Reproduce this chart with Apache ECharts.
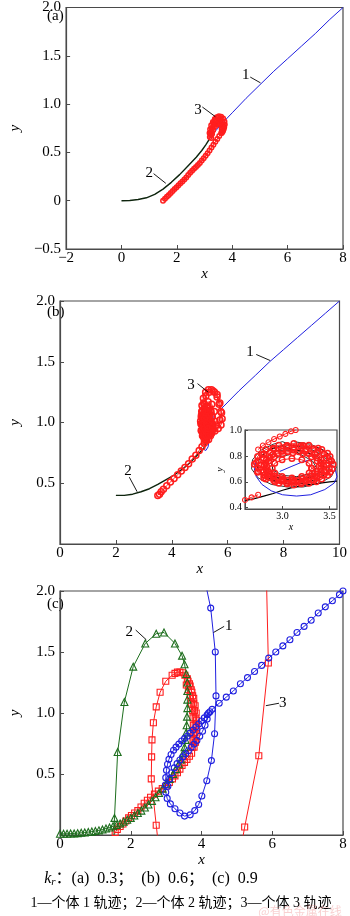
<!DOCTYPE html>
<html><head><meta charset="utf-8">
<script src="https://cdn.jsdelivr.net/npm/echarts@6/dist/echarts.min.js"></script>
<style>html,body{margin:0;padding:0;background:#fff}#c{width:350px;height:916px}</style>
</head><body><div id="c"></div>
<script>
// ---------------- tick labels ----------------
const aXTicks = [-2, 0, 2, 4, 6, 8];
const aYTicks = [-0.5, 0, 0.5, 1.0, 1.5, 2.0];
const bXTicks = [0, 2, 4, 6, 8, 10];
const bYTicks = [0, 0.5, 1.0, 1.5, 2.0];
const insetXRange = [2.6, 3.58];
const insetYRange = [0.39, 1.0];
const insetXTicks = [3.0, 3.5];
const insetYTicks = [0.4, 0.6, 0.8, 1.0];
const cXTicks = [0, 2, 4, 6, 8];
const cYTicks = [0, 0.5, 1.0, 1.5, 2.0];

// ---------------- panel (a), kr = 0.3 ----------------
const aTraj1 = [[3.18,0.64],[3.30,0.69],[3.42,0.73],[3.55,0.77],[3.70,0.82],[4.0,0.91],[4.5,1.06],[5.0,1.20],[5.5,1.34],[6.0,1.47],[6.5,1.60],[7.0,1.73],[7.5,1.87],[8.0,2.0]];
const aTraj2 = [[0,0],[0.3,0.002],[0.6,0.012],[0.9,0.03],[1.2,0.065],[1.5,0.12],[1.8,0.19],[2.1,0.27],[2.4,0.36],[2.7,0.45],[2.9,0.52],[3.05,0.58],[3.18,0.64]];
const aTraj3 = [[1.50,0.00],[1.57,0.02],[1.64,0.04],[1.71,0.06],[1.78,0.08],[1.85,0.10],[1.92,0.12],[1.99,0.14],[2.06,0.16],[2.13,0.18],[2.20,0.20],[2.27,0.22],[2.34,0.24],[2.41,0.265],[2.48,0.29],[2.55,0.31],[2.62,0.33],[2.69,0.35],[2.76,0.37],[2.83,0.39],[2.90,0.415],[2.97,0.44],[3.04,0.465],[3.11,0.49],[3.18,0.52],[3.25,0.55],[3.32,0.58],[3.39,0.61],[3.46,0.64],[3.53,0.67],[3.60,0.70],[3.66,0.73],[3.71,0.76],[3.73,0.79],[3.72,0.82],[3.67,0.85],[3.60,0.87],[3.52,0.875],[3.44,0.865],[3.37,0.845],[3.30,0.815],[3.24,0.78],[3.20,0.74],[3.18,0.70],[3.19,0.66],[3.23,0.68],[3.26,0.72],[3.30,0.76],[3.36,0.79],[3.43,0.82],[3.51,0.83],[3.58,0.82],[3.64,0.79],[3.67,0.76],[3.66,0.72],[3.62,0.70],[3.62,0.74],[3.60,0.78],[3.54,0.80],[3.46,0.79],[3.38,0.77],[3.31,0.73],[3.27,0.69],[3.24,0.65],[3.22,0.70],[3.25,0.75],[3.31,0.80],[3.39,0.84],[3.48,0.86],[3.57,0.85],[3.65,0.82],[3.70,0.78],[3.69,0.74],[3.64,0.71]];
const aNotes = [{t:'1', at:[4.49,1.30], from:[4.65,1.28], to:[5.02,1.22]},{t:'2', at:[1.0,0.29], from:[1.16,0.28], to:[1.6,0.18]},{t:'3', at:[2.76,0.94], from:[2.92,0.97], to:[3.39,0.87]}];

// ---------------- panel (b), kr = 0.6 ----------------
const bTraj1 = [[5.12,0.78],[5.22,0.77],[5.30,0.80],[5.33,0.86],[5.32,0.93],[5.38,1.0],[5.5,1.05],[5.8,1.12],[6.4,1.26],[7.0,1.39],[7.5,1.5],[8.0,1.6],[8.5,1.7],[9.0,1.8],[9.5,1.9],[10.0,2.0]];
const bTraj2 = [[2.0,0.40],[2.3,0.40],[2.6,0.41],[2.9,0.43],[3.2,0.455],[3.5,0.49],[3.8,0.53],[4.1,0.57],[4.4,0.62],[4.7,0.68],[4.95,0.74],[5.15,0.79],[5.22,0.82]];
const bTraj3 = [[3.50,0.40],[3.56,0.41],[3.62,0.43],[3.70,0.45],[3.82,0.48],[3.95,0.51],[4.08,0.54],[4.21,0.57],[4.34,0.60],[4.47,0.63],[4.60,0.66],[4.73,0.70],[4.86,0.73],[4.98,0.77],[5.08,0.80],[5.16,0.83],[5.22,0.86],[5.14,0.91],[5.08,0.98],[5.06,1.06],[5.08,1.14],[5.13,1.20],[5.21,1.25],[5.31,1.27],[5.42,1.27],[5.53,1.25],[5.62,1.21],[5.69,1.15],[5.75,1.09],[5.80,1.03],[5.76,0.98],[5.66,0.95],[5.54,0.93],[5.42,0.91],[5.32,0.89],[5.40,0.92],[5.46,0.98],[5.45,1.05],[5.39,1.10],[5.29,1.13],[5.18,1.11],[5.10,1.05],[5.08,0.98],[5.11,0.92],[5.19,0.88],[5.28,0.89],[5.36,0.94],[5.39,1.01],[5.35,1.07],[5.26,1.09],[5.17,1.07],[5.12,1.01],[5.13,0.95],[5.19,0.91],[5.27,0.92],[5.31,0.97],[5.30,1.03],[5.23,1.05],[5.17,1.01],[5.18,0.96],[5.24,0.94],[5.22,0.99],[5.26,1.0],[5.24,0.97],[5.34,0.90],[5.48,0.94],[5.54,1.01],[5.52,1.09],[5.43,1.15],[5.30,1.17],[5.16,1.15],[5.07,1.09],[5.03,1.01],[5.06,0.93],[5.14,0.88],[5.20,0.86],
 [5.44,0.99],[5.425,1.044],[5.382,1.089],[5.316,1.119],[5.24,1.13],[5.164,1.119],[5.098,1.089],[5.055,1.044],[5.04,0.99],[5.055,0.936],[5.098,0.891],[5.164,0.861],[5.24,0.85],[5.316,0.861],[5.382,0.891],[5.425,0.936],
 [5.36,0.99],[5.343,1.04],[5.295,1.077],[5.23,1.09],[5.165,1.077],[5.117,1.04],[5.10,0.99],[5.117,0.94],[5.165,0.903],[5.23,0.89],[5.295,0.903],[5.343,0.94],
 [5.29,0.99],[5.27,1.032],[5.22,1.05],[5.17,1.032],[5.15,0.99],[5.17,0.948],[5.22,0.93],[5.27,0.948],[5.26,0.99],
 [5.30,0.95],[5.45,0.96],[5.60,0.98],[5.72,1.02],[5.78,1.08],[5.72,1.16],[5.62,1.23],[5.48,1.26],[5.34,1.25],[5.22,1.22],[5.14,1.16],[5.10,1.10]];
const bNotes = [{t:'1', at:[6.8,1.58], from:[7.02,1.56], to:[7.52,1.51]},{t:'2', at:[2.43,0.60], from:[2.48,0.55], to:[2.76,0.43]},{t:'3', at:[4.69,1.31], from:[4.92,1.32], to:[5.30,1.25]}];

// ---------------- inset of panel (b) ----------------
const inBlackLine = [[2.6,0.455],[2.7,0.47],[2.8,0.49],[2.9,0.51],[3.0,0.535],[3.1,0.555],[3.2,0.57],[3.3,0.58],[3.4,0.59],[3.5,0.6],[3.58,0.605]];
const inBlackLoops = [[3.12,0.91],[3.30,0.89],[3.45,0.84],[3.55,0.77],[3.57,0.71],[3.52,0.64],[3.40,0.59],[3.22,0.56],[3.05,0.56],[2.88,0.58],[2.74,0.63],[2.67,0.70],[2.68,0.77],[2.76,0.84],[2.90,0.89],[3.00,0.91],[3.10,0.88],[3.28,0.86],[3.42,0.81],[3.50,0.75],[3.49,0.68],[3.38,0.62],[3.22,0.59],[3.05,0.59],[2.90,0.61],[2.78,0.66],[2.73,0.72],[2.76,0.79],[2.86,0.85],[3.00,0.88],[3.10,0.85],[3.25,0.83],[3.38,0.79],[3.44,0.74],[3.42,0.68],[3.32,0.64],[3.18,0.62],[3.02,0.62],[2.90,0.64],[2.82,0.68],[2.80,0.74],[2.85,0.80],[2.95,0.84],[3.10,0.85],[3.22,0.80],[3.32,0.76],[3.36,0.71],[3.30,0.66],[3.15,0.64],[3.0,0.65],[2.9,0.69],[2.88,0.74],[2.95,0.79],[3.08,0.81]];
const inRedTop = [[2.74,0.85],[2.79,0.88],[2.85,0.905],[2.91,0.93],[2.97,0.95],[3.03,0.97],[3.09,0.99],[3.14,1.0]];
const inRedLow = [[2.6,0.46],[2.67,0.48],[2.74,0.50]];
const inRedRings = [
 [3.54,0.735],[3.506,0.796],[3.418,0.849],[3.28,0.882],[3.12,0.895],[2.96,0.882],[2.822,0.849],[2.734,0.796],[2.70,0.735],[2.734,0.674],[2.822,0.621],[2.96,0.588],[3.12,0.575],[3.28,0.588],[3.418,0.621],[3.506,0.674],
 [3.498,0.704],[3.498,0.762],[3.44,0.815],[3.334,0.856],[3.195,0.878],[3.045,0.878],[2.906,0.856],[2.80,0.815],[2.742,0.762],[2.742,0.704],[2.80,0.651],[2.906,0.61],[3.045,0.588],[3.195,0.588],[3.334,0.61],[3.44,0.651],
 [3.47,0.73],[3.442,0.782],[3.369,0.826],[3.253,0.854],[3.12,0.865],[2.987,0.854],[2.871,0.826],[2.798,0.782],[2.77,0.73],[2.798,0.678],[2.871,0.634],[2.987,0.606],[3.12,0.595],[3.253,0.606],[3.369,0.634],[3.442,0.678],
 [3.435,0.725],[3.411,0.771],[3.344,0.810],[3.241,0.836],[3.12,0.845],[2.999,0.836],[2.896,0.810],[2.829,0.771],[2.805,0.725],[2.829,0.679],[2.896,0.640],[2.999,0.614],[3.12,0.605],[3.241,0.614],[3.344,0.640],[3.411,0.679],
 [3.409,0.70],[3.409,0.744],[3.364,0.785],[3.282,0.816],[3.174,0.833],[3.056,0.833],[2.948,0.816],[2.866,0.785],[2.821,0.744],[2.821,0.70],[2.866,0.659],[2.948,0.628],[3.056,0.611],[3.174,0.611],[3.282,0.628],[3.364,0.659],
 [3.39,0.72],[3.369,0.76],[3.309,0.794],[3.216,0.817],[3.11,0.825],[3.004,0.817],[2.911,0.794],[2.852,0.76],[2.83,0.72],[2.852,0.68],[2.911,0.646],[3.004,0.623],[3.11,0.615],[3.216,0.623],[3.309,0.646],[3.369,0.68],
 [3.31,0.705],[3.283,0.743],[3.205,0.770],[3.1,0.78],[2.995,0.770],[2.917,0.743],[2.89,0.705],[2.917,0.668],[2.995,0.640],[3.1,0.63],[3.205,0.640],[3.283,0.668],[3.31,0.705],
 [3.52,0.76],[3.48,0.82],[3.38,0.86],[3.22,0.88],[3.05,0.88],[2.9,0.86],[2.78,0.81],[2.72,0.75],[2.74,0.68],[2.8,0.63],[2.92,0.6],[3.05,0.585],[3.2,0.585],[3.36,0.6],[3.48,0.65],[3.53,0.70]];
const inBlueLoop = [[2.72,0.76],[2.70,0.70],[2.72,0.64],[2.78,0.58],[2.88,0.53],[3.0,0.50],[3.15,0.49],[3.30,0.50],[3.45,0.54],[3.55,0.59],[3.58,0.64],[3.56,0.70],[3.50,0.75]];
const inBlueInner = [[2.97,0.68],[3.10,0.72],[3.20,0.75],[3.29,0.77]];

// ---------------- panel (c), kr = 0.9 ----------------
const cTraj1 = [[4.10,2.08],[4.26,1.86],[4.39,1.50],[4.41,1.14],[4.37,0.83],[4.28,0.61],[4.15,0.445],[4.01,0.32],[3.92,0.25],[3.81,0.20],[3.68,0.165],[3.52,0.155],[3.39,0.18],[3.25,0.215],[3.12,0.255],[3.03,0.30],[2.99,0.35],[2.98,0.41],[2.99,0.47],[3.01,0.53],[3.04,0.58],[3.08,0.62],[3.14,0.66],[3.21,0.695],[3.28,0.72],[3.36,0.745],[3.44,0.77],[3.52,0.79],[3.60,0.81],[3.68,0.835],[3.76,0.86],[3.84,0.885],[3.92,0.91],[4.00,0.935],[4.08,0.96],[4.16,0.985],[4.24,1.01],[4.30,1.03],[4.5,1.08],[4.7,1.13],[4.9,1.18],[5.1,1.24],[5.3,1.29],[5.5,1.34],[5.7,1.39],[5.9,1.45],[6.1,1.50],[6.3,1.55],[6.5,1.60],[6.7,1.66],[6.9,1.71],[7.1,1.76],[7.3,1.82],[7.5,1.87],[7.7,1.92],[7.9,1.97],[8.0,2.0]];
const cTraj1Band = [[3.05,0.40],[3.10,0.46],[3.16,0.51],[3.23,0.55],[3.31,0.585],[3.39,0.615],[3.47,0.64],[3.55,0.665],[3.63,0.69],[3.71,0.72],[3.79,0.745],[3.87,0.775],[3.95,0.81],[4.03,0.85],[4.10,0.90],[4.16,0.95],[4.20,1.0]];
const cTraj2 = [[0.0,0.01],[0.1,0.01],[0.2,0.01],[0.3,0.012],[0.4,0.013],[0.5,0.015],[0.6,0.018],[0.7,0.02],[0.8,0.024],[0.9,0.028],[1.0,0.033],[1.1,0.038],[1.2,0.045],[1.3,0.053],[1.4,0.062],[1.5,0.072],[1.6,0.083],[1.7,0.095],[1.8,0.11],[1.9,0.125],[2.0,0.14],[2.1,0.16],[2.2,0.18],[2.3,0.2],[2.4,0.225],[2.5,0.25],[2.6,0.28],[2.7,0.31],[2.8,0.345],[2.9,0.38],[3.0,0.42],[3.1,0.46],[3.2,0.5],[3.28,0.54],[3.36,0.58],[3.42,0.62],[3.48,0.67],[3.52,0.72],[3.55,0.78],[3.57,0.84],[3.58,0.9],[3.59,0.97],[3.6,1.04],[3.6,1.11],[3.6,1.18],[3.6,1.25],[3.57,1.32],[3.52,1.40],[3.45,1.47],[3.25,1.57],[2.94,1.66],[2.72,1.65],[2.41,1.57],[2.07,1.38],[1.82,1.09],[1.63,0.68],[1.54,0.14],[1.52,-0.05]];
const cTraj3Right = [[5.15,-0.05],[5.22,0.065],[5.62,0.65],[5.89,1.41],[5.84,2.05]];
const cTraj3 = [[1.48,-0.03],[1.56,0.02],[1.62,0.045],[1.70,0.07],[1.78,0.09],[1.86,0.115],[1.94,0.14],[2.02,0.16],[2.11,0.18],[2.20,0.2],[2.29,0.23],[2.38,0.26],[2.47,0.285],[2.56,0.31],[2.67,0.335],[2.78,0.36],[2.89,0.38],[3.0,0.4],[3.09,0.43],[3.18,0.46],[3.25,0.485],[3.32,0.51],[3.39,0.54],[3.45,0.57],[3.52,0.595],[3.59,0.62],[3.66,0.645],[3.72,0.67],[3.74,0.72],[3.76,0.78],[3.77,0.84],[3.77,0.9],[3.76,0.96],[3.75,1.02],[3.72,1.08],[3.68,1.14],[3.63,1.19],[3.57,1.23],[3.62,1.26],[3.68,1.22],[3.73,1.17],[3.78,1.12],[3.82,1.06],[3.85,1.0],[3.86,0.94],[3.86,0.88],[3.85,0.82],[3.83,0.76],[3.79,0.72],[3.79,0.78],[3.81,0.84],[3.82,0.9],[3.82,0.96],[3.80,1.02],[3.78,1.08],[3.75,1.14],[3.71,1.19],[3.66,1.24],[3.60,1.28],[3.53,1.31],[3.46,1.33],[3.39,1.335],[3.32,1.335],[3.25,1.325],[3.17,1.31],[2.99,1.26],[2.83,1.17],[2.72,1.05],[2.64,0.92],[2.60,0.78],[2.59,0.64],[2.58,0.46],[2.72,0.08],[2.77,-0.05]];
const cNotes = [{t:'1', at:[4.77,1.71], from:[4.64,1.71], to:[4.34,1.66]},{t:'2', at:[1.96,1.66], from:[2.14,1.68], to:[2.44,1.60]},{t:'3', at:[6.30,1.08], from:[6.19,1.08], to:[5.82,1.06]}];

const panelTags = ['(a)', '(b)', '(c)'];
const captionKr = ['(a)  0.3', '(b)  0.6', '(c)  0.9'];
const captionLegend = '1—个体 1 轨迹；2—个体 2 轨迹；3—个体 3 轨迹';

// ---------------- styling / building ----------------
const SERIF = "'Liberation Serif','Times New Roman',serif";
const BLUE = '#2020e0', RED = '#ff1e1e', GREEN = '#1d6e1d', DARK = '#0d240d', AXIS = '#4a4a4a';

const grids = [
  {left:42, top:6, width:301, height:243},
  {left:42, top:301, width:301, height:243},
  {left:245, top:430, width:92, height:79},
  {left:42, top:591, width:301, height:244}
].map(g => Object.assign({show:true, borderColor:AXIS, borderWidth:1.2, backgroundColor:'#fff', containLabel:false}, g));

function fmtX(v){ return (v < 0 ? '−' : '') + Math.abs(v); }
function fmtY(hideZero){ return v => { if (Math.abs(v) < 1e-9) return hideZero ? '' : '0'; return (v < 0 ? '−' : '') + Math.abs(v).toFixed(1); }; }

function mkX(gi, ticks){
  return {type:'value', gridIndex:gi, min:ticks[0], max:ticks[ticks.length-1], interval:ticks[1]-ticks[0],
    name:'x', nameLocation:'middle', nameGap:17,
    nameTextStyle:{fontFamily:SERIF, fontStyle:'italic', fontSize:15, color:'#000'},
    axisLine:{show:true, onZero:false, lineStyle:{color:AXIS, width:1.2}},
    axisTick:{show:true, inside:true, length:4, lineStyle:{color:AXIS}},
    axisLabel:{fontFamily:SERIF, fontSize:15, color:'#000', margin:2, formatter:fmtX},
    splitLine:{show:false}};
}
function mkY(gi, ticks, hideZero){
  return {type:'value', gridIndex:gi, min:ticks[0], max:ticks[ticks.length-1], interval:ticks[1]-ticks[0],
    name:'y', nameLocation:'middle', nameGap:37, nameRotate:90,
    nameTextStyle:{fontFamily:SERIF, fontStyle:'italic', fontSize:15, color:'#000'},
    axisLine:{show:true, onZero:false, lineStyle:{color:AXIS, width:1.2}},
    axisTick:{show:true, inside:true, length:4, lineStyle:{color:AXIS}},
    axisLabel:{fontFamily:SERIF, fontSize:15, color:'#000', margin:5, formatter:fmtY(hideZero)},
    splitLine:{show:false}};
}

const xAxes = [mkX(0, aXTicks), mkX(1, bXTicks),
  {type:'value', gridIndex:2, min:insetXRange[0], max:insetXRange[1],
    name:'x', nameLocation:'middle', nameGap:10,
    nameTextStyle:{fontFamily:SERIF, fontStyle:'italic', fontSize:10, color:'#000'},
    axisLine:{show:true, onZero:false, lineStyle:{color:AXIS, width:1}},
    axisTick:{show:true, inside:true, length:3, customValues:insetXTicks, lineStyle:{color:AXIS}},
    axisLabel:{fontFamily:SERIF, fontSize:10, color:'#000', margin:2, customValues:insetXTicks, formatter:v => v.toFixed(1)},
    splitLine:{show:false}},
  mkX(3, cXTicks)];
const yAxes = [mkY(0, aYTicks, false), mkY(1, bYTicks, true),
  {type:'value', gridIndex:2, min:insetYRange[0], max:insetYRange[1],
    name:'y', nameLocation:'middle', nameGap:20, nameRotate:90,
    nameTextStyle:{fontFamily:SERIF, fontStyle:'italic', fontSize:10, color:'#000'},
    axisLine:{show:true, onZero:false, lineStyle:{color:AXIS, width:1}},
    axisTick:{show:true, inside:true, length:3, customValues:insetYTicks, lineStyle:{color:AXIS}},
    axisLabel:{fontFamily:SERIF, fontSize:10, color:'#000', margin:3, customValues:insetYTicks, formatter:v => v.toFixed(1)},
    splitLine:{show:false}},
  mkY(3, cYTicks, true)];

function ln(gi, data, color, sym, size, extra){
  return Object.assign({type:'line', xAxisIndex:gi, yAxisIndex:gi, data:data,
    symbol: sym || 'none', showSymbol: !!sym, symbolSize: size || 5,
    lineStyle:{color:color, width:1}, itemStyle:{color:'rgba(255,255,255,0)', borderColor:color, borderWidth:1.1},
    silent:true, animation:false, clip:true, emphasis:{disabled:true}}, extra || {});
}
function notes(list){
  return {
    markLine:{silent:true, symbol:'none', animation:false, label:{show:false},
      lineStyle:{color:'#000', width:0.9, type:'solid'},
      data:list.map(n => [{coord:n.from}, {coord:n.to}])},
    markPoint:{silent:true, animation:false, symbol:'circle', symbolSize:1, itemStyle:{color:'rgba(0,0,0,0)'},
      label:{show:true, position:'inside', formatter:'{b}', fontFamily:SERIF, fontSize:15, color:'#000'},
      data:list.map(n => ({name:n.t, coord:n.at}))}
  };
}
const thickRed = {itemStyle:{color:'rgba(255,255,255,0)', borderColor:RED, borderWidth:1.5}};

const series = [
  // (a)
  ln(0, aTraj2, DARK, null, 0, Object.assign({lineStyle:{color:DARK, width:1.4}}, notes(aNotes))),
  ln(0, aTraj1, BLUE),
  ln(0, aTraj3, RED, 'circle', 4.5, thickRed),
  // (b)
  ln(1, bTraj2, DARK, null, 0, Object.assign({lineStyle:{color:DARK, width:1.4}}, notes(bNotes))),
  ln(1, bTraj1, BLUE),
  ln(1, bTraj3, RED, 'circle', 6, thickRed),
  // inset
  ln(2, inBlackLine, DARK, null, 0, {lineStyle:{color:'#000', width:1.2}}),
  ln(2, inRedRings, RED, 'circle', 5.5, thickRed),
  ln(2, inRedTop, RED, 'circle', 5),
  ln(2, inRedLow, RED, 'circle', 5),
  ln(2, inBlackLoops, '#000', null, 0, {lineStyle:{color:'#000', width:0.8}}),
  ln(2, inBlueLoop, BLUE),
  ln(2, inBlueInner, BLUE),
  // (c)
  ln(3, cTraj3Right, RED, 'rect', 6, notes(cNotes)),
  ln(3, cTraj3, RED, 'rect', 6),
  ln(3, cTraj2, GREEN, 'triangle', 7),
  ln(3, cTraj1Band, BLUE, 'circle', 6),
  ln(3, cTraj1, BLUE, 'circle', 6)
];

const tagPos = [[47, 17], [47, 313], [47, 605]];
const graphic = panelTags.map((t, i) => ({type:'text', left:tagPos[i][0], top:tagPos[i][1]-8, silent:true,
  style:{text:t, font:'15px ' + SERIF, fill:'#000'}}));
graphic.push({type:'text', x:151, y:879, silent:true,
  style:{text:'{k|k}{r|r}{n|：' + captionKr.join('；  ') + '}', align:'center', verticalAlign:'middle',
    rich:{k:{fontFamily:SERIF, fontStyle:'italic', fontSize:16, fill:'#000'},
          r:{fontFamily:SERIF, fontStyle:'italic', fontSize:11, fill:'#000', padding:[6,0,0,0]},
          n:{fontFamily:"'Liberation Serif','Noto Sans CJK SC',serif", fontSize:16, fill:'#000'}}}});
graphic.push({type:'text', x:181, y:903, silent:true,
  style:{text:captionLegend, align:'center', verticalAlign:'middle', font:"14px 'Liberation Serif','Noto Sans CJK SC',serif", fill:'#000'}});
graphic.push({type:'text', x:300, y:911, silent:true,
  style:{text:'@有色金属在线', align:'center', verticalAlign:'middle', font:"12px 'Noto Sans CJK SC',sans-serif", fill:'rgba(235,120,120,0.35)'}});

const chart = echarts.init(document.getElementById('c'), null, {renderer:'canvas', width:350, height:916});
chart.setOption({animation:false, backgroundColor:'#fff', grid:grids, xAxis:xAxes, yAxis:yAxes, series:series, graphic:graphic});
</script></body></html>
